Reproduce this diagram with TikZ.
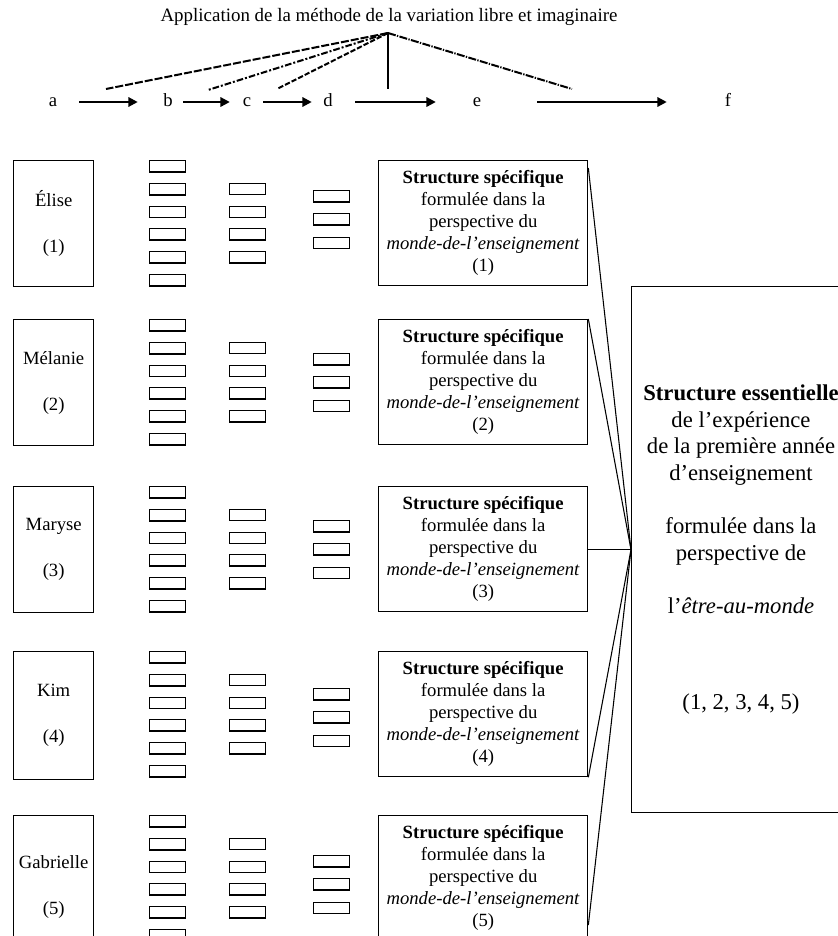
\documentclass[tikz,border=0pt]{standalone}
\usepackage{fontspec}
\setmainfont{Liberation Serif}
\usetikzlibrary{arrows.meta,calc}
\begin{document}
\begin{tikzpicture}[x=0.75pt,y=-0.75pt,
  txt/.style={font=\fontsize{14}{16.5}\selectfont},
  letter/.style={txt,inner sep=0pt,text height=6.3pt,text depth=0pt},
  title/.style={font=\fontsize{14.2}{16.5}\selectfont,inner sep=0pt},
  flow/.style={line width=1.6pt,-{Triangle[length=7pt,width=7pt]}},
  rayA/.style={line width=1.5pt,dash pattern=on 6pt off 1.5pt},
  rayB/.style={line width=1.5pt,dash pattern=on 5pt off 1.5pt on 1.5pt off 1.5pt},
  rayC/.style={line width=1.5pt,dash pattern=on 4pt off 1.5pt},
  rayD/.style={line width=1.5pt},
  rayE/.style={line width=1.5pt,dash pattern=on 6pt off 1pt on 1pt off 1pt},
  namebox/.style={draw,line width=1pt,txt,anchor=north west,inner sep=0pt,
    minimum width=60pt,align=center},
  slot/.style={draw,line width=1.1pt,anchor=north west,inner sep=0pt,
    minimum width=27pt,minimum height=8.6pt},
  structbox/.style={draw,line width=1pt,txt,anchor=north west,inner sep=0pt,
    minimum width=156.75pt,minimum height=93.75pt,align=center},
  bigbox/.style={draw,line width=1pt,anchor=north west,inner sep=0pt,
    minimum width=164pt,minimum height=394.5pt,align=center,
    font=\fontsize{17}{20}\selectfont},
  link/.style={line width=0.8pt}
]
\useasboundingbox (0,0) rectangle (838,936);
\clip (0,0) rectangle (838,936);

% title and flow letters
\node[title] (T) at (389,17) {Application de la méthode de la variation libre et imaginaire};
\node[letter] (la) at (53,102) {a};
\node[letter] (lb) at (168,102) {b};
\node[letter] (lc) at (247,102) {c};
\node[letter] (ld) at (328,102) {d};
\node[letter] (le) at (477,102) {e};
\node[letter] (lf) at (728,102) {f};

\draw[flow,shorten <=16.3pt,shorten >=19pt] (la) -- (lb);
\draw[flow,shorten <=7.7pt,shorten >=9.6pt] (lb) -- (lc);
\draw[flow,shorten <=8.8pt,shorten >=8.5pt] (lc) -- (ld);
\draw[flow,shorten <=16.7pt,shorten >=27.6pt] (ld) -- (le);
\draw[flow,shorten <=41.8pt,shorten >=43.4pt] (le) -- (lf);

% rays from the method
\coordinate (A) at (388,33);
\coordinate (r1) at (106,89);
\coordinate (r2) at (208,90);
\coordinate (r3) at (277,89);
\coordinate (r4) at (388,89);
\coordinate (r5) at (572,89);
\draw[rayA] (A) -- (r1);
\draw[rayB] (A) -- (r2);
\draw[rayC] (A) -- (r3);
\draw[rayD] (A) -- (r4);
\draw[rayE] (A) -- (r5);

% groups
\foreach \i/\T/\nm/\dof/\nh in {1/160/Élise/30/94.5,2/319/Mélanie/34/94.5,3/486/Maryse/34/94.5,4/651/Kim/37/96,5/815/Gabrielle/40/106.5}{
  \node[namebox,minimum height=\nh pt] (n\i) at (13,\T) {\nm\\[18pt](\i)};
  \foreach \k/\o in {1/0,2/23,3/45.5,4/68,5/91,6/114}{
    \node[slot] (b\i-\k) at (149,\T+\o) {};
  }
  \foreach \k/\o in {1/22.5,2/45.5,3/68,4/91}{
    \node[slot] (c\i-\k) at (229,\T+\o) {};
  }
  \foreach \k/\o in {1/0,2/23,3/46.5}{
    \node[slot] (d\i-\k) at (313,\T+\dof+\o) {};
  }
  \node[structbox] (s\i) at (378,\T) {\textbf{Structure spécifique}\\formulée dans la\\perspective du\\\textit{monde-de-l’enseignement}\\(\i)};
}

% essential structure
\node[bigbox] (E) at (631,286) {\textbf{Structure essentielle}\\de l’expérience\\de la première année\\d’enseignement\\[20pt]formulée dans la\\perspective de\\[20pt]l’\textit{être-au-monde}\\[52pt](1, 2, 3, 4, 5)};

\draw[link] ($(s1.north east)+(0,8)$) -- (E.west);
\draw[link] (s2.north east) -- (E.west);
\draw[link] (s3.east |- E.west) -- (E.west);
\draw[link] (s4.south east) -- (E.west);
\draw[link] ($(s5.north east)+(0,110)$) -- (E.west);
\end{tikzpicture}
\end{document}
